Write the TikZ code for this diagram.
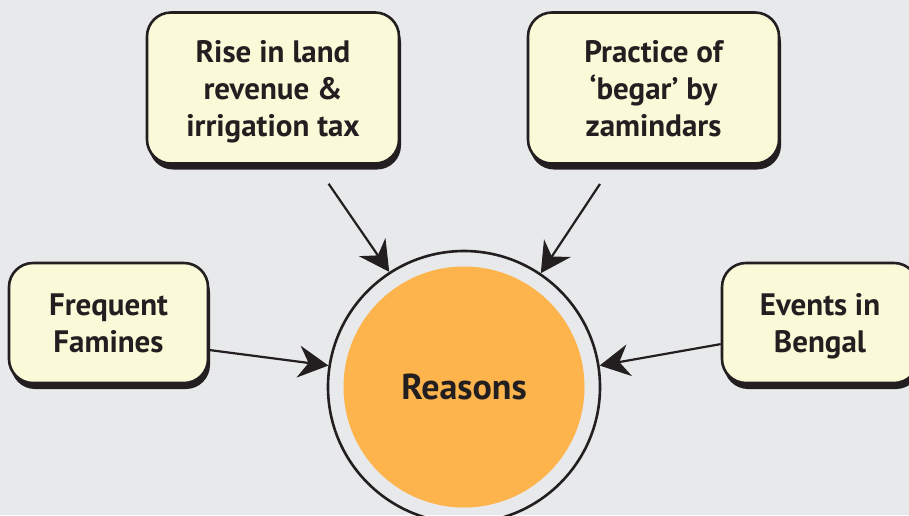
\documentclass[tikz,border=0pt]{standalone}
\usepackage{fontspec}
\setmainfont{PT Sans}
\usetikzlibrary{arrows.meta,shadows}
\definecolor{paper}{HTML}{E8E9EA}
\definecolor{cream}{HTML}{FAF9D8}
\definecolor{sun}{HTML}{FDB44C}
\definecolor{ink}{HTML}{231F20}

\begin{document}
\begin{tikzpicture}[x=1pt,y=-1pt,
  reason/.style={rectangle,rounded corners=24pt,draw=ink,line width=2.6pt,fill=cream,
    drop shadow={shadow xshift=2pt,shadow yshift=-6pt,opacity=1,fill=ink},
    align=center,text=ink,inner sep=0pt,text depth=0pt,
    font=\fontsize{31}{37}\selectfont\bfseries},
  link/.style={draw=ink,line width=2.2pt,-{Stealth[length=30pt,width=32pt,inset=10pt]}}]
\useasboundingbox (0,0) rectangle (909,515);
\clip (0,0) rectangle (909,515);
\fill[paper] (0,0) rectangle (909,515);
\node[circle,draw=ink,line width=2.6pt,minimum size=272pt] (ring) at (464,387) {};
\node[circle,fill=sun,minimum size=241pt,text=ink,
  font=\fontsize{36}{40}\selectfont\bfseries] (reasons) at (464,387) {Reasons};
\node[reason,minimum width=252pt,minimum height=151pt] (rise) at (273,88)
  {Rise in land\\revenue \&\\irrigation tax};
\node[reason,minimum width=251pt,minimum height=151pt] (begar) at (653.5,88)
  {Practice of\\‘begar’ by\\zamindars};
\node[reason,minimum width=199pt,minimum height=120pt] (famines) at (108.5,323)
  {Frequent\\Famines};
\node[reason,minimum width=196pt,minimum height=120pt] (bengal) at (820,323)
  {Events in\\Bengal};
\draw[link,shorten <=23pt] (rise.-61.5) -- (ring.123.5);
\draw[link,shorten <=23pt] (begar.-118.2) -- (ring.56.2);
\draw[link] (famines.-15) -- (ring.171);
\draw[link] (bengal.-168.5) -- (ring.9);
\end{tikzpicture}
\end{document}
